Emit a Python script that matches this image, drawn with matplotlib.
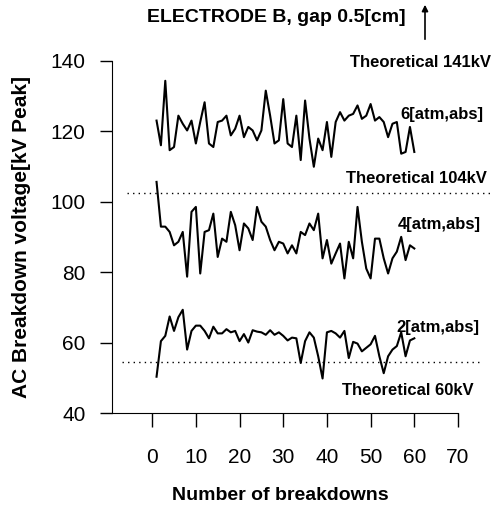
import matplotlib
matplotlib.use('Agg')
import matplotlib.pyplot as plt

plt.rcParams['font.family'] = ['Liberation Sans', 'DejaVu Sans']

breakdowns = list(range(1, 61))

# 6 atm abs
v_6atm = [123.0, 116.0, 134.3, 114.6, 115.5, 124.4, 122.1, 120.2, 123.0, 116.5,
          122.6, 128.2, 116.5, 115.5, 122.6, 123.0, 124.4, 118.8, 120.7, 124.4,
          118.3, 121.2, 120.2, 117.4, 120.2, 131.5, 124.4, 116.5, 117.4, 129.1,
          116.5, 115.5, 124.4, 111.8, 128.7, 117.9, 109.9, 117.9, 114.6, 122.6,
          112.7, 122.6, 125.4, 123.0, 124.4, 124.9, 127.3, 123.5, 124.4, 127.7,
          123.0, 124.0, 122.6, 118.3, 122.1, 122.6, 113.6, 114.1, 121.2, 114.1]

# 4 atm abs
v_4atm = [105.6, 92.9, 92.9, 91.4, 87.6, 88.6, 91.4, 78.7, 97.1, 98.5,
          79.6, 91.4, 91.9, 96.6, 84.3, 89.5, 88.6, 97.1, 93.3, 86.2,
          93.8, 92.4, 89.1, 98.5, 94.3, 92.9, 89.1, 86.2, 88.6, 88.1,
          85.3, 87.6, 85.3, 91.4, 90.5, 93.8, 91.9, 96.6, 83.9, 89.1,
          82.4, 85.3, 88.1, 78.2, 88.6, 83.9, 98.5, 88.6, 81.0, 78.2,
          89.5, 89.5, 83.9, 79.6, 83.9, 85.8, 90.0, 83.4, 87.6, 86.7]

# 2 atm abs
v_2atm = [50.3, 60.4, 61.9, 67.4, 63.3, 67.2, 69.3, 58.0, 63.3, 64.8,
          64.8, 63.3, 61.2, 64.5, 62.6, 62.6, 63.8, 62.9, 63.3, 60.4,
          62.4, 60.0, 63.5, 63.1, 62.9, 62.2, 63.5, 62.2, 62.9, 61.9,
          60.6, 61.4, 61.2, 54.2, 60.4, 62.9, 61.4, 56.1, 49.8, 62.9,
          63.3, 62.6, 61.4, 63.3, 55.6, 60.2, 59.7, 57.5, 58.5, 59.5,
          61.9, 56.1, 51.3, 56.1, 58.0, 59.0, 62.9, 56.1, 60.6, 61.2]

theory_104 = 102.5
theory_60 = 54.5

fig = plt.figure(figsize=(4.92, 5.08), dpi=100)
ax = fig.add_axes([0.2276, 0.187, 0.7033, 0.6935])

for v in (v_6atm, v_4atm, v_2atm):
    ax.plot(breakdowns, v, color='black', lw=1.5)

ax.plot([-5.7, 77.5], [theory_104, theory_104], color='black', lw=1.0,
        linestyle=(0, (1, 3)), clip_on=False)
ax.plot([-6.9, 75.5], [theory_60, theory_60], color='black', lw=1.0,
        linestyle=(0, (1, 3)), clip_on=False)

ax.set_xlim(-9.2, 70)
ax.set_ylim(40, 140)
ax.set_xticks(range(0, 71, 10))
ax.set_yticks(range(40, 141, 20))
ax.spines['top'].set_visible(False)
ax.spines['right'].set_visible(False)
ax.tick_params(axis='y', direction='out', length=9, width=1, pad=10, labelsize=15)
ax.tick_params(axis='x', direction='out', length=10, width=1, pad=15, labelsize=15)

tk = dict(fontsize=12, fontweight='bold', clip_on=False, va='center')
ax.text(77.5, 139.6, 'Theoretical 141kV', ha='right', **tk)
ax.text(56.9, 124.6, '6[atm,abs]', ha='left', **tk)
ax.text(76.6, 106.7, 'Theoretical 104kV', ha='right', **tk)
ax.text(56.2, 93.6, '4[atm,abs]', ha='left', **tk)
ax.text(55.8, 64.3, '2[atm,abs]', ha='left', **tk)
ax.text(73.6, 46.4, 'Theoretical 60kV', ha='right', **tk)

fig.text(276 / 492, 1 - 18 / 508, 'ELECTRODE B, gap 0.5[cm]', ha='center',
         va='center', fontsize=14, fontweight='bold')
fig.text(280 / 492, 1 - 495 / 508, 'Number of breakdowns', ha='center',
         va='center', fontsize=14, fontweight='bold')
fig.text(22 / 492, 1 - 237 / 508, 'AC Breakdown voltage[kV Peak]', ha='center',
         va='center', rotation=90, fontsize=15, fontweight='bold')

ax.annotate('', xy=(425 / 492, 1 - 2 / 508), xytext=(425 / 492, 1 - 42 / 508),
            xycoords='figure fraction', textcoords='figure fraction',
            arrowprops=dict(arrowstyle='-|>', color='black', lw=1.2,
                            mutation_scale=9))

fig.savefig('out.png', dpi=100)
